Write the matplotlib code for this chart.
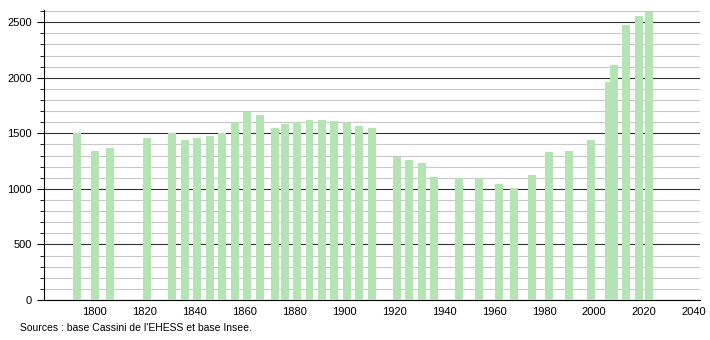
import matplotlib
matplotlib.use('Agg')
import matplotlib.pyplot as plt
from matplotlib.ticker import MultipleLocator

# population data
years = [1793, 1800, 1806, 1821, 1831, 1836, 1841, 1846, 1851, 1856,
         1861, 1866, 1872, 1876, 1881, 1886, 1891, 1896, 1901, 1906,
         1911, 1921, 1926, 1931, 1936, 1946, 1954, 1962, 1968, 1975,
         1982, 1990, 1999, 2006, 2008, 2013, 2018, 2022]
population = [1500, 1341, 1368, 1458, 1500, 1440, 1458, 1476, 1500, 1600,
              1695, 1665, 1548, 1584, 1600, 1620, 1620, 1611, 1596, 1566,
              1548, 1284, 1260, 1233, 1104, 1095, 1098, 1044, 1008, 1125,
              1332, 1341, 1440, 1965, 2115, 2475, 2556, 2590]
x_ticks = [1800, 1820, 1840, 1860, 1880, 1900, 1920, 1940, 1960, 1980, 2000, 2020, 2040]
y_ticks = [0, 500, 1000, 1500, 2000, 2500]

plt.rcParams['font.family'] = ['Liberation Sans', 'DejaVu Sans']

fig = plt.figure(figsize=(7.1, 3.4), dpi=100)
ax = fig.add_axes([44 / 710, 40 / 340, 656 / 710, 290 / 340])

ax.bar(years, population, width=3.2, color='#b4e3b4', zorder=3)

ax.set_xlim(1779.6, 2042.5)
ax.set_ylim(0, 2610)
ax.set_xticks(x_ticks)
ax.set_yticks(y_ticks)
ax.yaxis.set_minor_locator(MultipleLocator(100))

ax.grid(axis='y', which='major', color='#333333', linewidth=0.8, zorder=1)
ax.grid(axis='y', which='minor', color='#c8c8c8', linewidth=0.8, zorder=1)

ax.tick_params(axis='x', length=0, labelsize=8, pad=5)
ax.tick_params(axis='y', which='major', length=5, labelsize=8)
ax.tick_params(axis='y', which='minor', length=3)

ax.spines['top'].set_visible(False)
ax.spines['right'].set_visible(False)

fig.text(20 / 710, 1 - 328 / 340, "Sources : base Cassini de l'EHESS et base Insee.",
         fontsize=7.5, va='center', ha='left')

fig.savefig('out.png', dpi=100)
